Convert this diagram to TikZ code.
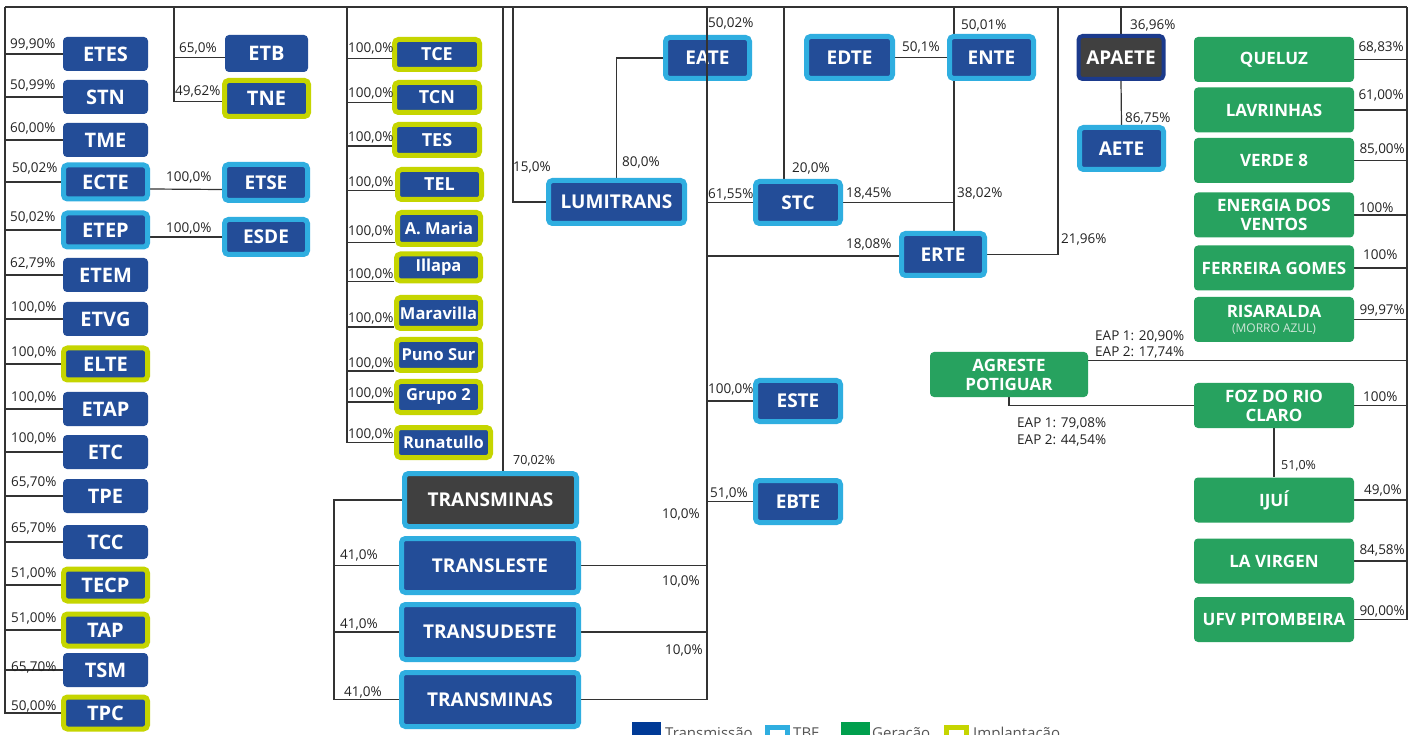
\documentclass[tikz,border=0pt]{standalone}
\usepackage{fontspec}
\setmainfont{Open Sans}
\usetikzlibrary{backgrounds}
\definecolor{tblue}{HTML}{234D98}
\definecolor{tbe}{HTML}{2FAEE0}
\definecolor{impl}{HTML}{C5D500}
\definecolor{ggreen}{HTML}{27A25F}
\definecolor{dgray}{HTML}{404040}
\definecolor{navy}{HTML}{1B3A8C}
\definecolor{ln}{HTML}{333333}
\definecolor{lgblue}{HTML}{003A96}
\definecolor{lggreen}{HTML}{009F4D}
\definecolor{pctc}{HTML}{222222}
\definecolor{morro}{HTML}{CFE6D8}
\definecolor{legc}{HTML}{555555}
\newcommand\pctW[4]{\node[pct,anchor=base west] (#1) at (#2,#3) {#4};}
\newcommand\pctE[4]{\node[pct,anchor=base east] (#1) at (#2,#3) {#4};}
\tikzset{
 box/.style={fill=tblue, text=white, rounded corners=4pt, inner sep=0pt, font=\fontsize{19}{21}\selectfont\bfseries, align=center},
 dim/.style 2 args={minimum width=#1pt, minimum height=#2pt},
 lcol/.style={font=\fontsize{20}{22}\selectfont\bfseries},
 tbeb/.style={box, draw=tbe, line width=5pt},
 implb/.style={box, draw=impl, line width=5pt},
 capf/.style={font=\fontsize{18}{20}\selectfont\bfseries},
 mixf/.style={font=\fontsize{16.5}{18}\selectfont\bfseries},
 gbox/.style={box, fill=ggreen, font=\fontsize{17}{19}\selectfont\bfseries},
 conn/.style={draw=ln, line width=1.2pt},
 pct/.style={inner sep=0pt, text=pctc, font=\fontsize{13.5}{15}\selectfont},
 pcts/.style={pct, font=\fontsize{12.5}{14}\selectfont},
 legt/.style={inner sep=0pt, text=legc, font=\fontsize{15}{17}\selectfont, anchor=base west},
}
\begin{document}
\begin{tikzpicture}[x=1pt,y=-1pt]
\useasboundingbox (0,0) rectangle (1417,735);
\clip (0,0) rectangle (1417,735);
% bus coordinates on the top line
\coordinate (bL) at (5,7);
\coordinate (bETB) at (174,7);
\coordinate (bM) at (347,7);
\coordinate (bTM) at (503,7);
\coordinate (bLU) at (513,7);
\coordinate (bC) at (707,7);
\coordinate (bSTC) at (784,7);
\coordinate (bENTE) at (954,7);
\coordinate (bERTE) at (1058,7);
\coordinate (bAP) at (1121,7);
\coordinate (bR) at (1407,7);
\coordinate (tmx) at (334,500);

% left column
\node[box,lcol,dim={85}{34}] (ETES) at (105.5,54) {ETES};
\node[box,lcol,dim={85}{34}] (STN) at (105.5,97) {STN};
\node[box,lcol,dim={85}{34}] (TME) at (105.5,140) {TME};
\node[tbeb,lcol,dim={84}{34}] (ECTE) at (105.5,182) {ECTE};
\node[tbeb,lcol,dim={84}{34}] (ETEP) at (105.5,230) {ETEP};
\node[box,lcol,dim={85}{34}] (ETEM) at (105.5,275) {ETEM};
\node[box,lcol,dim={85}{34}] (ETVG) at (105.5,319) {ETVG};
\node[implb,lcol,dim={84}{32}] (ELTE) at (105.5,364) {ELTE};
\node[box,lcol,dim={85}{34}] (ETAP) at (105.5,409) {ETAP};
\node[box,lcol,dim={85}{34}] (ETC) at (105.5,452) {ETC};
\node[box,lcol,dim={85}{34}] (TPE) at (105.5,496) {TPE};
\node[box,lcol,dim={85}{34}] (TCC) at (105.5,542) {TCC};
\node[implb,lcol,dim={84}{32}] (TECP) at (105.5,585) {TECP};
\node[implb,lcol,dim={84}{32}] (TAP) at (105.5,630) {TAP};
\node[box,lcol,dim={85}{34}] (TSM) at (105.5,670) {TSM};
\node[implb,lcol,dim={84}{32}] (TPC) at (105.5,713) {TPC};

\node[box,lcol,dim={83}{37}] (ETB) at (266.5,53.5) {ETB};
\node[implb,lcol,dim={84}{36}] (TNE) at (266.5,98.5) {TNE};
\node[tbeb,dim={83}{36}] (ETSE) at (266,182.5) {ETSE};
\node[tbeb,dim={83}{35}] (ESDE) at (266,237) {ESDE};

% middle column
\node[implb,capf,dim={85}{30}] (TCE) at (437,54.5) {TCE};
\node[implb,capf,dim={85}{30}] (TCN) at (437,97.5) {TCN};
\node[implb,capf,dim={85}{31}] (TES) at (437,140) {TES};
\node[implb,capf,dim={84}{30}] (TEL) at (439.5,184.5) {TEL};
\node[implb,mixf,dim={83}{32}] (AMA) at (439,228.5) {A. Maria};
\node[implb,mixf,dim={84}{27}] (ILL) at (438.5,267.5) {Illapa};
\node[implb,mixf,dim={84}{31}] (MAR) at (438.5,313) {Maravilla};
\node[implb,mixf,dim={84}{31}] (PUN) at (438.5,355) {Puno Sur};
\node[implb,mixf,dim={84}{31}] (GR2) at (438.5,397) {Grupo 2};
\node[implb,mixf,dim={94}{30}] (RUN) at (443.5,442.5) {Runatullo};

% transminas group
\node[tbeb,fill=dgray,dim={172}{53}] (TMd) at (490.5,500) {TRANSMINAS};
\node[tbeb,dim={177}{54}] (TL) at (490,565.5) {TRANSLESTE};
\node[tbeb,dim={177}{55}] (TU) at (490,632) {TRANSUDESTE};
\node[tbeb,dim={177}{54}] (TM2) at (490,699.5) {TRANSMINAS};

% centre
\node[tbeb,dim={136}{43}] (LU) at (616.5,202) {LUMITRANS};
\node[tbeb,dim={84}{41}] (EATE) at (707.5,58) {EATE};
\node[tbeb,dim={86}{42}] (EDTE) at (849.5,57.5) {EDTE};
\node[tbeb,dim={84}{42}] (ENTE) at (991.5,57.5) {ENTE};
\node[tbeb,dim={85}{42}] (STC) at (798,202.5) {STC};
\node[tbeb,dim={83}{42}] (ERTE) at (943,254.5) {ERTE};
\node[tbeb,dim={85}{41}] (ESTE) at (798,401) {ESTE};
\node[tbeb,dim={85}{42}] (EBTE) at (798,501.5) {EBTE};
\node[box,fill=dgray,draw=navy,line width=4pt,dim={85}{43}] (APAETE) at (1121,57.5) {APAETE};
\node[tbeb,dim={84}{42}] (AETE) at (1121.5,148.5) {AETE};

% generation
\node[gbox,dim={160}{45}] (QUE) at (1274,59.5) {QUELUZ};
\node[gbox,dim={160}{45}] (LAV) at (1274,110) {LAVRINHAS};
\node[gbox,dim={160}{45}] (VER) at (1274,160.5) {VERDE 8};
\node[gbox,dim={160}{45}] (ENE) at (1274,215) {ENERGIA DOS\\VENTOS};
\node[gbox,dim={160}{45}] (FER) at (1274,268) {FERREIRA GOMES};
\node[gbox,dim={160}{45}] (RIS) at (1274,319.5) {RISARALDA\\[-4pt]{\fontsize{12}{13}\selectfont\mdseries\color{morro}(MORRO AZUL)}};
\node[gbox,dim={160}{45}] (FOZ) at (1274,405.5) {FOZ DO RIO\\CLARO};
\node[gbox,dim={160}{45}] (IJU) at (1274,500) {IJUÍ};
\node[gbox,dim={160}{45}] (LAVI) at (1274,561) {LA VIRGEN};
\node[gbox,dim={160}{45}] (UFV) at (1274,619.5) {UFV PITOMBEIRA};
\node[gbox,dim={158}{45}] (AGR) at (1009,374.5) {AGRESTE\\POTIGUAR};
\coordinate (agE) at ([yshift=14pt]AGR.east);

% connectors
\begin{pgfonlayer}{background}
\fill[white] (0,0) rectangle (1417,735);
\draw[conn] (bL) -- (bR);
\foreach \n in {ETES,STN,TME,ECTE,ETEP,ETEM,ETVG,ELTE,ETAP,ETC,TPE,TCC,TECP,TAP,TSM,TPC}
  \draw[conn] (\n.west) -| (bL);
\draw[conn] ([yshift=-4pt]ETB.west) -| (bETB);
\draw[conn] ([yshift=-3pt]TNE.west) -| (bETB);
\draw[conn] ([yshift=-7pt]ECTE.east) -- ([yshift=-7pt]ETSE.west);
\draw[conn] (ESDE.west) -- (ESDE.west -| ETEP.east);
\draw[conn] ([yshift=-4pt]TCE.west) -| (bM);
\draw[conn] ([yshift=-5pt]TCN.west) -| (bM);
\draw[conn] ([yshift=-6pt]TES.west) -| (bM);
\draw[conn] ([yshift=-6pt]TEL.west) -| (bM);
\draw[conn] ([yshift=-14pt]AMA.west) -| (bM);
\draw[conn] ([yshift=-14pt]ILL.west) -| (bM);
\draw[conn] ([yshift=-14pt]MAR.west) -| (bM);
\draw[conn] ([yshift=-16pt]PUN.west) -| (bM);
\draw[conn] ([yshift=-5pt]GR2.west) -| (bM);
\draw[conn] (RUN.west) -| (bM);
\draw[conn] (bTM) -- (bTM |- TMd.north);
\draw[conn] (TMd.west) -- (TMd.west -| tmx) -- (TM2.west -| tmx) -- (TM2.west);
\draw[conn] (TL.west) -- (TL.west -| tmx);
\draw[conn] (TU.west) -- (TU.west -| tmx);
\draw[conn] (TL.east) -- (TL.east -| bC);
\draw[conn] (TU.east) -- (TU.east -| bC);
\draw[conn] (TM2.east) -- (TM2.east -| bC);
\draw[conn] (LU.west) -| (bLU);
\draw[conn] (LU.north) |- (EATE.west);
\draw[conn] (STC.west) -- (STC.west -| bC);
\draw[conn] (bSTC) -- (bSTC |- STC.north);
\draw[conn] (EDTE.east) -- (ENTE.west);
\draw[conn] (bENTE) -- (bENTE |- ENTE.north);
\draw[conn] (ENTE.south -| bENTE) -- (ERTE.north -| bENTE);
\draw[conn] (STC.east) -- (STC.east -| bENTE);
\draw[conn] ([yshift=-1.5pt]ERTE.west) -- ([yshift=-1.5pt]ERTE.west -| bC);
\draw[conn] (ERTE.east) -| (bERTE);
\draw[conn] (bAP) -- (APAETE.north);
\draw[conn] (APAETE.south) -- (AETE.north);
\draw[conn] (ESTE.west) -- (ESTE.west -| bC);
\draw[conn] (EBTE.west) -- (EBTE.west -| bC);
\foreach \n in {QUE,LAV,VER,ENE,FER,RIS,FOZ,IJU,LAVI,UFV}
  \draw[conn] (\n.east) -| (bR);
\draw[conn] (agE) -- (agE -| bR);
\draw[conn] (AGR.south) |- (FOZ.west);
\draw[conn] (FOZ.south) -- (IJU.north);
\end{pgfonlayer}
\draw[conn] (bC) -- (bC |- TM2.east);

% percentage labels
\pctW{p1}{10}{49}{99,90\%}
\pctW{p2}{10}{90}{50,99\%}
\pctW{p3}{10}{133}{60,00\%}
\pctW{p4}{12}{173}{50,02\%}
\pctW{p5}{10}{222}{50,02\%}
\pctW{p6}{10}{268}{62,79\%}
\pctW{p7}{11}{312}{100,0\%}
\pctW{p8}{11}{356}{100,0\%}
\pctW{p9}{11}{401}{100,0\%}
\pctW{p10}{11}{442}{100,0\%}
\pctW{p11}{11}{486}{65,70\%}
\pctW{p12}{11}{532}{65,70\%}
\pctW{p13}{11}{577}{51,00\%}
\pctW{p14}{11}{622}{51,00\%}
\pctW{p15}{11}{671}{65,70\%}
\pctW{p16}{11}{710}{50,00\%}
\pctW{p17}{179}{53}{65,0\%}
\pctW{p18}{175}{96}{49,62\%}
\pctW{p19}{166}{182}{100,0\%}
\pctW{p20}{166}{233}{100,0\%}
\pctW{m1}{348}{53}{100,0\%}
\pctW{m2}{348}{98}{100,0\%}
\pctW{m3}{348}{142}{100,0\%}
\pctW{m4}{348}{187}{100,0\%}
\pctW{m5}{348}{236}{100,0\%}
\pctW{m6}{348}{279}{100,0\%}
\pctW{m7}{348}{323}{100,0\%}
\pctW{m8}{348}{368}{100,0\%}
\pctW{m9}{348}{398}{100,0\%}
\pctW{m10}{348}{438}{100,0\%}
\node[pcts,anchor=base west] (c1) at (513,464) {70,02\%};
\pctW{c2}{513}{172}{15,0\%}
\pctW{c3}{622}{167}{80,0\%}
\pctW{c4}{340}{559}{41,0\%}
\pctW{c5}{340}{628}{41,0\%}
\pctW{c6}{344}{696}{41,0\%}
\pctE{c7}{700}{518}{10,0\%}
\pctE{c8}{700}{585}{10,0\%}
\pctE{c9}{703}{654}{10,0\%}
\pctW{c10}{708}{28}{50,02\%}
\pctW{c11}{792}{173}{20,0\%}
\pctW{c12}{708}{199}{61,55\%}
\pctW{c13}{846}{198}{18,45\%}
\pctW{c14}{957}{198}{38,02\%}
\pctW{c15}{902}{52}{50,1\%}
\pctW{c16}{961}{30}{50,01\%}
\pctW{c17}{846}{249}{18,08\%}
\pctW{c18}{1061}{244}{21,96\%}
\pctW{c19}{1130}{30}{36,96\%}
\pctW{c20}{1125}{123}{86,75\%}
\pctW{c21}{708}{394}{100,0\%}
\pctW{c22}{710}{497}{51,0\%}
\pctW{c23}{1095}{341}{EAP 1: 20,90\%}
\pctW{c24}{1095}{357}{EAP 2: 17,74\%}
\pctW{c25}{1017}{428}{EAP 1: 79,08\%}
\pctW{c26}{1017}{444}{EAP 2: 44,54\%}
\pctE{g1}{1404}{52}{68,83\%}
\pctE{g2}{1404}{100}{61,00\%}
\pctE{g3}{1405}{154}{85,00\%}
\pctW{g4}{1359}{213}{100\%}
\pctW{g5}{1363}{260}{100\%}
\pctE{g6}{1405}{315}{99,97\%}
\pctW{g7}{1363}{402}{100\%}
\pctE{g8}{1402}{494}{49,0\%}
\pctE{g9}{1405}{554}{84,58\%}
\pctE{g10}{1405}{615}{90,00\%}
\node[pcts,anchor=base west] (g11) at (1281,469) {51,0\%};

% legend (cut by the lower edge, as in the reference)
\node[fill=lgblue,minimum size=29pt,inner sep=0pt,anchor=north west] (lg1) at (632,722) {};
\node[legt] (lt1) at (665,738) {Transmissão};
\node[draw=tbe,line width=5pt,minimum size=20pt,inner sep=0pt,anchor=north west] (lg2) at (764.5,724.5) {};
\node[legt] (lt2) at (793,738) {TBE};
\node[fill=lggreen,minimum size=29pt,inner sep=0pt,anchor=north west] (lg3) at (841,722) {};
\node[legt] (lt3) at (872,738) {Geração};
\node[draw=impl,line width=5pt,minimum size=20pt,inner sep=0pt,anchor=north west] (lg4) at (943.5,724.5) {};
\node[legt] (lt4) at (973,738) {Implantação};
\end{tikzpicture}
\end{document}
